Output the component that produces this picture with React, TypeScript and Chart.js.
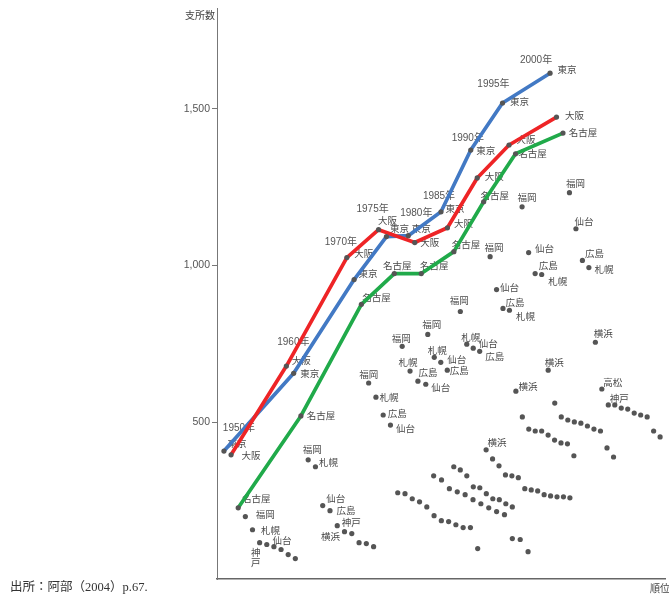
import React, { useEffect, useRef } from 'react';
import { Chart, registerables } from 'chart.js';

Chart.register(...registerables);

// ---- data ----
const years = ['1950年', '1960年', '1970年', '1975年', '1980年', '1985年', '1990年', '1995年', '2000年'];

// 支所数 by rank (1st, 2nd, ...) for each year
const v1950 = [408, 396, 227, 199, 157, 116, 110, 103, 94, 78, 65];
const v1960 = [679, 656, 520, 380, 358, 234, 218, 170, 151, 145, 116, 113, 103];
const v1970 = [1025, 955, 876, 625, 580, 523, 491, 275, 272, 256, 246, 230, 202, 186, 183, 173, 164, 164, 97];
const v1975 = [1114, 1092, 974, 742, 663, 631, 621, 329, 316, 288, 278, 269, 253, 240, 227, 215, 205, 129, 126, 87];
const v1980 = [1095, 1073, 974, 780, 707, 691, 666, 358, 348, 329, 294, 291, 272, 256, 253, 240, 230];
const v1985 = [1171, 1120, 1044, 853, 749, 736, 726, 412, 383, 361, 332, 329, 323, 288, 284, 281, 269, 265, 262, 262, 259];
const v1990 = [1368, 1279, 1203, 1028, 923, 863, 857, 599, 517, 478, 472, 472, 459, 443, 434, 431, 393];
const v1995 = [1518, 1384, 1356, 1187, 1041, 974, 971, 666, 561, 517, 507, 501, 497, 488, 478, 472, 418, 389];
const v2000 = [1613, 1473, 1422, 1232, 1117, 1016, 993, 755, 606, 555, 555, 545, 542, 529, 523, 517, 472, 453];

// city names by rank ('' = unlabelled)
const c1950 = ['東京', '大阪', '名古屋', '福岡', '札幌', '神戸', '', '仙台'];
const c1960 = ['大阪', '東京', '名古屋', '福岡', '札幌', '仙台', '広島', '神戸', '横浜'];
const c1970 = ['大阪', '東京', '名古屋', '福岡', '札幌', '広島', '仙台'];
const c1975 = ['大阪', '東京', '名古屋', '福岡', '札幌', '広島', '仙台'];
const c1980 = ['東京', '大阪', '名古屋', '福岡', '札幌', '仙台', '広島'];
const c1985 = ['東京', '大阪', '名古屋', '福岡', '札幌', '仙台', '広島', '横浜'];
const c1990 = ['東京', '大阪', '名古屋', '福岡', '仙台', '広島', '札幌', '横浜'];
const c1995 = ['東京', '大阪', '名古屋', '福岡', '仙台', '広島', '札幌', '横浜'];
const c2000 = ['東京', '大阪', '名古屋', '福岡', '仙台', '広島', '札幌', '横浜', '高松', '神戸'];

// position of each year's 1st rank on the 順位 axis, and width of one rank
const groupStart = [0.96, 9.6, 17.97, 22.36, 26.47, 31.0, 35.12, 39.51, 46.09];
const groupStep = [0.988, 1.006, 1.006, 1.089, 0.9, 0.892, 0.892, 0.904, 0.896];

const yTicks = [500, 1000, 1500];
const lineCities = ['東京', '大阪', '名古屋'];

const values = [v1950, v1960, v1970, v1975, v1980, v1985, v1990, v1995, v2000];
const cities = [c1950, c1960, c1970, c1975, c1980, c1985, c1990, c1995, c2000];

// ---- presentation ----
const lineColors = ['#4279c4', '#ee2426', '#20aa4a'];
const labelOffsets: Record<string, number[]>[] = [
  { 東京: [13, -8], 大阪: [20, 1], 名古屋: [18, -9], 福岡: [20, -2], 札幌: [18, 1], 神戸: [-4, 10, 1], 仙台: [8, -6] },
  { 大阪: [15, -6], 東京: [16, 0], 名古屋: [20, -1], 福岡: [4, -10], 札幌: [13, -4], 仙台: [13, -7], 広島: [16, 0], 神戸: [14, -3], 横浜: [-14, 5] },
  { 大阪: [17, -4], 東京: [14, -6], 名古屋: [15, -7], 福岡: [0, -9], 札幌: [13, 0], 広島: [14, -2], 仙台: [15, 3] },
  { 大阪: [9, -9], 東京: [13, -8], 名古屋: [3, -8], 福岡: [-1, -8], 札幌: [-2, -9], 広島: [10, -9], 仙台: [15, 3] },
  { 東京: [13, -7], 大阪: [15, 0], 名古屋: [13, -8], 福岡: [4, -10], 札幌: [3, -7], 仙台: [16, -3], 広島: [12, 0] },
  { 東京: [14, -3], 大阪: [16, -4], 名古屋: [12, -7], 福岡: [-1, -11], 札幌: [4, -7], 仙台: [15, -5], 広島: [15, 5], 横浜: [11, -7] },
  { 東京: [15, 0], 大阪: [17, -2], 名古屋: [11, -6], 福岡: [4, -9], 仙台: [13, -2], 広島: [12, -6], 札幌: [16, 6], 横浜: [12, -5] },
  { 東京: [17, -2], 大阪: [17, -6], 名古屋: [17, 0], 福岡: [5, -9], 仙台: [16, -4], 広島: [13, -8], 札幌: [16, 7], 横浜: [6, -8] },
  { 東京: [17, -4], 大阪: [18, -2], 名古屋: [20, -1], 福岡: [6, -9], 仙台: [8, -7], 広島: [12, -7], 札幌: [15, 2], 横浜: [8, -9], 高松: [11, -7], 神戸: [11, -7] },
];
const yearLabelOffsets = [[15, -23], [7, -24], [-6, -15], [-6, -20], [8, -22], [-2, -16], [-3, -12], [-9, -19], [-14, -13]];

const xOf = (g: number, r: number) => groupStart[g] + r * groupStep[g];

const labelPlugin = {
  id: 'cityLabels',
  beforeDatasetsDraw(chart: any) {
    const { ctx, scales } = chart;
    const xs = scales.x;
    const ys = scales.y;
    ctx.save();
    ctx.textAlign = 'center';
    ctx.textBaseline = 'middle';
    values.forEach((vals, g) => {
      // year label
      ctx.fillStyle = '#555';
      ctx.font = '10px "Liberation Sans", "Noto Sans CJK JP", sans-serif';
      const x0 = xs.getPixelForValue(xOf(g, 0));
      const y0 = ys.getPixelForValue(vals[0]);
      ctx.fillText(years[g], x0 + yearLabelOffsets[g][0], y0 + yearLabelOffsets[g][1]);
      // city labels
      ctx.fillStyle = '#4a4a4a';
      ctx.font = '9.5px "Noto Sans CJK JP", sans-serif';
      cities[g].forEach((name, r) => {
        if (!name) return;
        const off = labelOffsets[g][name];
        if (!off) return;
        const px = xs.getPixelForValue(xOf(g, r));
        const py = ys.getPixelForValue(vals[r]);
        if (off[2]) {
          Array.from(name).forEach((ch, i) => ctx.fillText(ch, px + off[0], py + off[1] + i * 9.5));
        } else {
          ctx.fillText(name, px + off[0], py + off[1]);
        }
      });
    });
    ctx.restore();
  },
  afterDraw(chart: any) {
    const { ctx, chartArea } = chart;
    ctx.save();
    ctx.fillStyle = '#444';
    ctx.font = '10px "Noto Sans CJK JP", sans-serif';
    ctx.textBaseline = 'middle';
    ctx.textAlign = 'right';
    ctx.fillText('支所数', chartArea.left - 2, chartArea.top + 7);
    ctx.textAlign = 'left';
    ctx.fillText('順位', chartArea.right - 15, chartArea.bottom + 9);
    ctx.restore();
  },
};

export default function App() {
  const ref = useRef<HTMLCanvasElement | null>(null);
  useEffect(() => {
    if (!ref.current) return;
    const dots: { x: number; y: number }[] = [];
    values.forEach((vals, g) => vals.forEach((v, r) => dots.push({ x: xOf(g, r), y: v })));
    const lineSets = lineCities.map((city, i) => ({
      label: city,
      data: values.map((vals, g) => {
        const r = cities[g].indexOf(city);
        return { x: xOf(g, r), y: vals[r] };
      }),
      showLine: true,
      borderColor: lineColors[i],
      backgroundColor: lineColors[i],
      borderWidth: 3.7,
      pointRadius: 0,
      tension: 0,
      borderJoinStyle: 'round' as const,
      clip: false as any,
    }));
    const chart = new Chart(ref.current, {
      type: 'scatter',
      data: {
        datasets: [
          {
            label: 'cities',
            data: dots,
            pointRadius: 2.6,
            pointBackgroundColor: '#555',
            pointBorderWidth: 0,
            borderColor: '#555',
            clip: false as any,
          },
          lineSets[2],
          lineSets[1],
          lineSets[0],
        ],
      },
      options: {
        animation: false,
        responsive: false,
        devicePixelRatio: 1,
        layout: { padding: { top: 7, right: 0, left: 0, bottom: 0 } },
        plugins: { legend: { display: false }, tooltip: { enabled: false } },
        scales: {
          x: {
            type: 'linear',
            min: 0,
            max: 62,
            grid: { display: false },
            ticks: { display: false },
            border: { display: true, color: '#666', width: 1.5 },
            afterFit: (s: any) => { s.height = 18; },
          },
          y: {
            type: 'linear',
            min: 0,
            max: 1820,
            afterBuildTicks: (s: any) => { s.ticks = yTicks.map((v) => ({ value: v })); },
            ticks: {
              color: '#555',
              padding: 2,
              font: { family: '"Liberation Sans", sans-serif', size: 10.5 },
              callback: (v: any) => Number(v).toLocaleString('en-US'),
            },
            grid: { drawOnChartArea: false, drawTicks: true, tickLength: 5, color: '#777' },
            border: { display: true, color: '#777', width: 1 },
            afterFit: (s: any) => { s.width = 217; },
          },
        },
      },
      plugins: [labelPlugin],
    });
    return () => chart.destroy();
  }, []);
  return (
    <div style={{ position: 'absolute', left: 0, top: 0, width: 669, height: 597, background: '#fff' }}>
      <canvas ref={ref} width={669} height={597} style={{ display: 'block' }} />
      <div
        style={{
          position: 'absolute',
          left: 10,
          top: 576,
          fontSize: 12.5,
          color: '#333',
          fontFamily: '"Liberation Serif", "Noto Sans CJK JP", serif',
          whiteSpace: 'nowrap',
        }}
      >
        出所：阿部（2004）p.67.
      </div>
    </div>
  );
}
